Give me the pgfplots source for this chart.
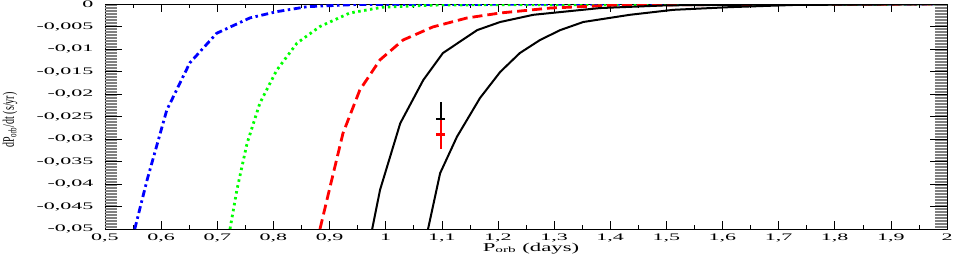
\documentclass[border=0pt]{standalone}
\usepackage{fontspec}
\setmainfont{Liberation Serif}
\usepackage{pgfplots}
\pgfplotsset{compat=1.18}
\begin{document}
\begin{tikzpicture}
\pgfplotsset{
  common/.style={
    scale only axis, width=842pt, height=225pt,
    xmin=0.5, xmax=2, ymin=-0.05, ymax=0,
    scaled y ticks=false, scaled x ticks=false,
    axis line style={line width=0.8pt},
    tick style={line width=0.5pt, black},
    tick align=inside,
    /pgf/number format/.cd, use comma, fixed, precision=3, assume math mode=true,
    /pgfplots/.cd,
    tick label style={font=\fontsize{10}{12}\selectfont},
    xticklabel={\scalebox{2.2}[1]{\pgfmathprintnumber{\tick}}},
    yticklabel={\scalebox{2.2}[1]{\pgfmathprintnumber{\tick}}},
  }
}
\begin{axis}[common,
  xtick={0.5,0.6,...,2.01}, minor x tick num=1,
  ytick=\empty,
  major tick length=8pt, minor tick length=4pt,
  xticklabel style={anchor=base, yshift=-11pt},
  xlabel={\scalebox{1.9}[1]{\fontsize{12}{14}\selectfont P\textsubscript{orb} (days)}},
  xlabel style={at={(axis description cs:0.506,0)}, anchor=base, yshift=-22pt, inner sep=0pt},
  ylabel={\scalebox{1}[1.6]{\fontsize{10}{12}\selectfont dP\textsubscript{orb}/dt (s/yr)}},
  ylabel style={at={(axis description cs:-0.1128,0.484)}, anchor=center, inner sep=0pt},
]
\addplot[blue, line width=2.8pt, dash pattern=on 7pt off 3.5pt on 2.5pt off 3.5pt] coordinates {
(0.553,-0.05)(0.575,-0.0391)(0.61,-0.0236)(0.651,-0.0131)(0.699,-0.0065)(0.758,-0.0031)(0.806,-0.0017)(0.86,-0.0006)(0.95,-0.0001)(2.0,0)};
\addplot[green, line width=2.8pt, dash pattern=on 2.5pt off 3.5pt] coordinates {
(0.7227,-0.05)(0.735,-0.0413)(0.753,-0.031)(0.776,-0.022)(0.806,-0.0147)(0.842,-0.0087)(0.883,-0.005)(0.936,-0.002)(0.995,-0.0007)(1.1,-0.0002)(2,0)};
\addplot[red, line width=2.8pt, dash pattern=on 10pt off 5pt] coordinates {
(0.883,-0.05)(0.901,-0.0406)(0.924,-0.0287)(0.954,-0.0191)(0.99,-0.0124)(1.031,-0.008)(1.084,-0.0051)(1.145,-0.0031)(1.204,-0.002)(1.293,-0.0009)(1.4,-0.0003)(1.6,-0.0001)(2,0)};
\addplot[black, line width=2pt] coordinates {
(0.976,-0.05)(0.99,-0.0413)(1.026,-0.0265)(1.067,-0.0169)(1.102,-0.0109)(1.163,-0.0058)(1.204,-0.004)(1.263,-0.0024)(1.382,-0.0009)(1.5,-0.0003)(1.7,-0.0001)(2,0)};
\addplot[black, line width=2pt] coordinates {
(1.0755,-0.05)(1.097,-0.0376)(1.127,-0.0295)(1.168,-0.0209)(1.204,-0.0151)(1.239,-0.0109)(1.275,-0.008)(1.311,-0.0058)(1.352,-0.004)(1.435,-0.0024)(1.512,-0.0013)(1.613,-0.0007)(1.73,-0.0002)(1.9,-0.0001)(2,0)};
\addplot[black, only marks, mark=-, mark size=4.5pt, mark options={line width=2.5pt},
  error bars/.cd, y dir=both, y explicit, error bar style={line width=2.2pt, black}, error mark=none]
  coordinates {(1.098,-0.0256) +- (0,0.0038)};
\addplot[red, only marks, mark=-, mark size=4.5pt, mark options={line width=2.5pt},
  error bars/.cd, y dir=both, y explicit, error bar style={line width=2.2pt, red}, error mark=none]
  coordinates {(1.098,-0.029) +- (0,0.0032)};
\end{axis}
\begin{axis}[common,
  xtick=\empty,
  ytick={-0.05,-0.045,...,0.001}, minor y tick num=14,
  major tick length=17pt, minor tick length=12pt,
  minor tick style={line width=0.5pt, gray},
  yticklabel style={xshift=-8pt},
  axis line style={draw=none},
]
\end{axis}
\pgfresetboundingbox
\path[use as bounding box] (-105pt,-26pt) rectangle (858pt,229pt);
\end{tikzpicture}
\end{document}
